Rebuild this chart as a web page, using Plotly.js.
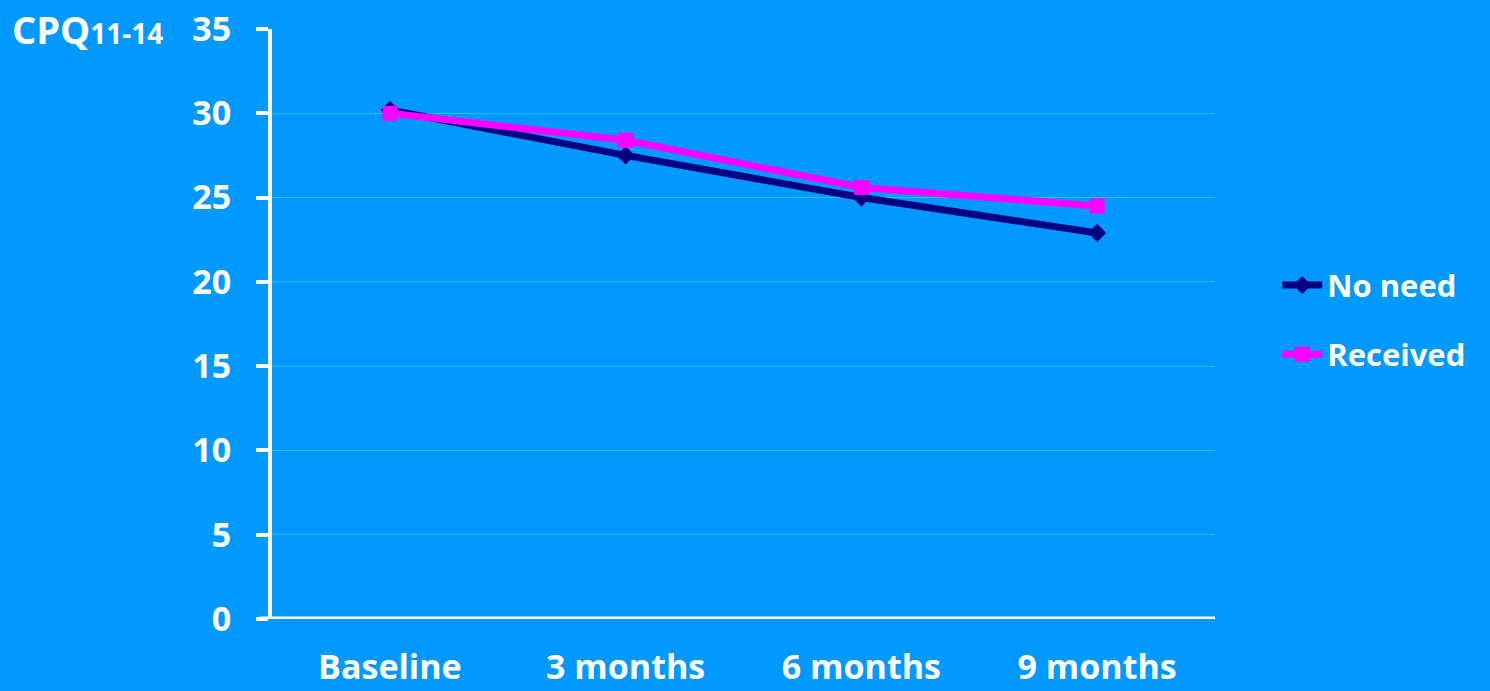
<!DOCTYPE html>
<html>
<head>
<meta charset="utf-8">
<script src="https://cdn.plot.ly/plotly-3.0.1.min.js"></script>
<style>
  html, body { margin: 0; padding: 0; background: #0099FF; }
  #chart { width: 1490px; height: 691px; }
</style>
</head>
<body>
<div id="chart"></div>
<script>
// Time points of the follow-up
const timepoints = ["Baseline", "3 months", "6 months", "9 months"];
// Mean CPQ11-14 scores per group
const noNeed = [30.2, 27.5, 25.0, 22.9];
const received = [30.0, 28.4, 25.6, 24.5];
const yTicks = [0, 5, 10, 15, 20, 25, 30, 35];

const FONT = "'Open Sans', Lato, sans-serif";

const traces = [
  {
    x: timepoints, y: noNeed, name: "No need", type: "scatter", mode: "lines+markers",
    line: { color: "#000080", width: 7 },
    marker: { symbol: "diamond", size: 14, color: "#000080" },
    legendgroup: "a"
  },
  {
    x: timepoints, y: received, name: "Received", type: "scatter", mode: "lines+markers",
    line: { color: "#FF00FF", width: 7 },
    marker: { symbol: "square", size: 15, color: "#FF00FF" },
    legendgroup: "b"
  }
];

const layout = {
  width: 1490, height: 691,
  paper_bgcolor: "#0099FF",
  plot_bgcolor: "#0099FF",
  margin: { l: 272, r: 275, t: 29, b: 72 },
  font: { family: FONT, color: "#FFFFFF", size: 30, weight: "bold" },
  showlegend: true,
  legend: {
    x: 1.066, y: 0.507, xanchor: "left", yanchor: "middle",
    font: { family: FONT, size: 31, color: "#FFFFFF", weight: "bold" },
    bgcolor: "rgba(0,0,0,0)", tracegroupgap: 26, traceorder: "grouped",
    itemwidth: 40
  },
  xaxis: {
    type: "category",
    range: [-0.5, 3.5],
    showgrid: false, zeroline: false,
    showline: false, ticks: "",
    ticklabelstandoff: 25,
    tickfont: { family: FONT, size: 34, color: "#FFFFFF", weight: "bold" },
    fixedrange: true
  },
  yaxis: {
    range: [0, 35],
    tickvals: yTicks,
    showgrid: true, gridcolor: "rgba(40,200,255,0.9)", gridwidth: 1,
    zeroline: false,
    showline: true, linecolor: "#FFFFFF", linewidth: 4,
    ticks: "outside", ticklen: 12, tickwidth: 4, tickcolor: "#FFFFFF",
    ticklabelstandoff: 18,
    tickfont: { family: FONT, size: 34, color: "#FFFFFF", weight: "bold" },
    fixedrange: true
  },
  shapes: [
    { type: "line", xref: "paper", yref: "y", x0: -0.013, x1: 1, y0: 0, y1: 0,
      line: { color: "#FFFFFF", width: 5 } }
  ],
  annotations: [
    { xref: "paper", yref: "paper", x: -0.278, y: 1.0, xanchor: "left", yanchor: "middle",
      text: "CPQ<span style=\"font-size:28px\">11-14</span>", showarrow: false,
      font: { family: FONT, size: 38, color: "#FFFFFF", weight: "bold" } }
  ]
};

Plotly.newPlot("chart", traces, layout, { displayModeBar: false, staticPlot: true });
</script>
</body>
</html>
